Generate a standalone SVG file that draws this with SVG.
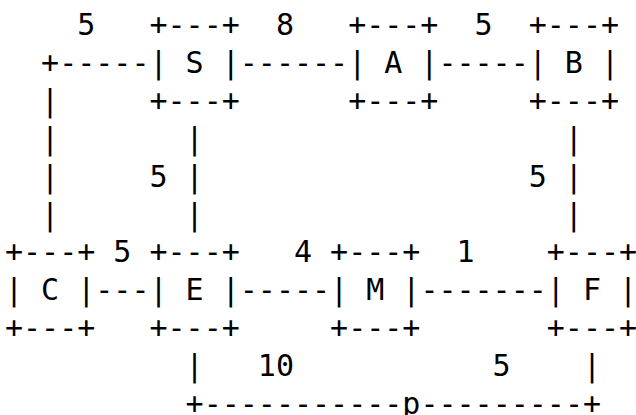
<svg xmlns="http://www.w3.org/2000/svg" width="636" height="415" viewBox="0 0 636 415" xml:space="preserve">
<style>
text { font-family: "DejaVu Sans Mono", "Liberation Mono", monospace; font-size: 30px; fill: #000; white-space: pre; }
</style>
<rect width="636" height="415" fill="#fff"/>
<g id="connectors">
<text x="77.24" y="35">5</text>
<text x="275.9" y="35">8</text>
<text x="474.56" y="35">5</text>
<text x="41.12" y="72.9">+-----</text>
<text x="239.78" y="72.9">------</text>
<text x="438.44" y="72.9">-----</text>
<text x="41.12" y="110.8">|</text>
<text x="41.12" y="148.7">|</text>
<text x="185.6" y="148.7">|</text>
<text x="564.86" y="148.7">|</text>
<text x="41.12" y="186.6">|</text>
<text x="149.48" y="186.6">5</text>
<text x="185.6" y="186.6">|</text>
<text x="528.74" y="186.6">5</text>
<text x="564.86" y="186.6">|</text>
<text x="41.12" y="224.5">|</text>
<text x="185.6" y="224.5">|</text>
<text x="564.86" y="224.5">|</text>
<text x="113.36" y="262.4">5</text>
<text x="293.96" y="262.4">4</text>
<text x="456.5" y="262.4">1</text>
<text x="95.3" y="300.3">---</text>
<text x="239.78" y="300.3">-----</text>
<text x="420.38" y="300.3">-------</text>
<text x="185.6" y="376.1">|</text>
<text x="257.84" y="376.1">10</text>
<text x="492.62" y="376.1">5</text>
<text x="582.92" y="376.1">|</text>
<text x="185.6" y="414">+-----------p---------+</text>
</g>
<g id="node-S">
<text x="149.48" y="35">+---+</text>
<text x="149.48" y="72.9">| S |</text>
<text x="149.48" y="110.8">+---+</text>
</g>
<g id="node-A">
<text x="348.14" y="35">+---+</text>
<text x="348.14" y="72.9">| A |</text>
<text x="348.14" y="110.8">+---+</text>
</g>
<g id="node-B">
<text x="528.74" y="35">+---+</text>
<text x="528.74" y="72.9">| B |</text>
<text x="528.74" y="110.8">+---+</text>
</g>
<g id="node-C">
<text x="5" y="262.4">+---+</text>
<text x="5" y="300.3">| C |</text>
<text x="5" y="338.2">+---+</text>
</g>
<g id="node-E">
<text x="149.48" y="262.4">+---+</text>
<text x="149.48" y="300.3">| E |</text>
<text x="149.48" y="338.2">+---+</text>
</g>
<g id="node-M">
<text x="330.08" y="262.4">+---+</text>
<text x="330.08" y="300.3">| M |</text>
<text x="330.08" y="338.2">+---+</text>
</g>
<g id="node-F">
<text x="546.8" y="262.4">+---+</text>
<text x="546.8" y="300.3">| F |</text>
<text x="546.8" y="338.2">+---+</text>
</g>
</svg>
